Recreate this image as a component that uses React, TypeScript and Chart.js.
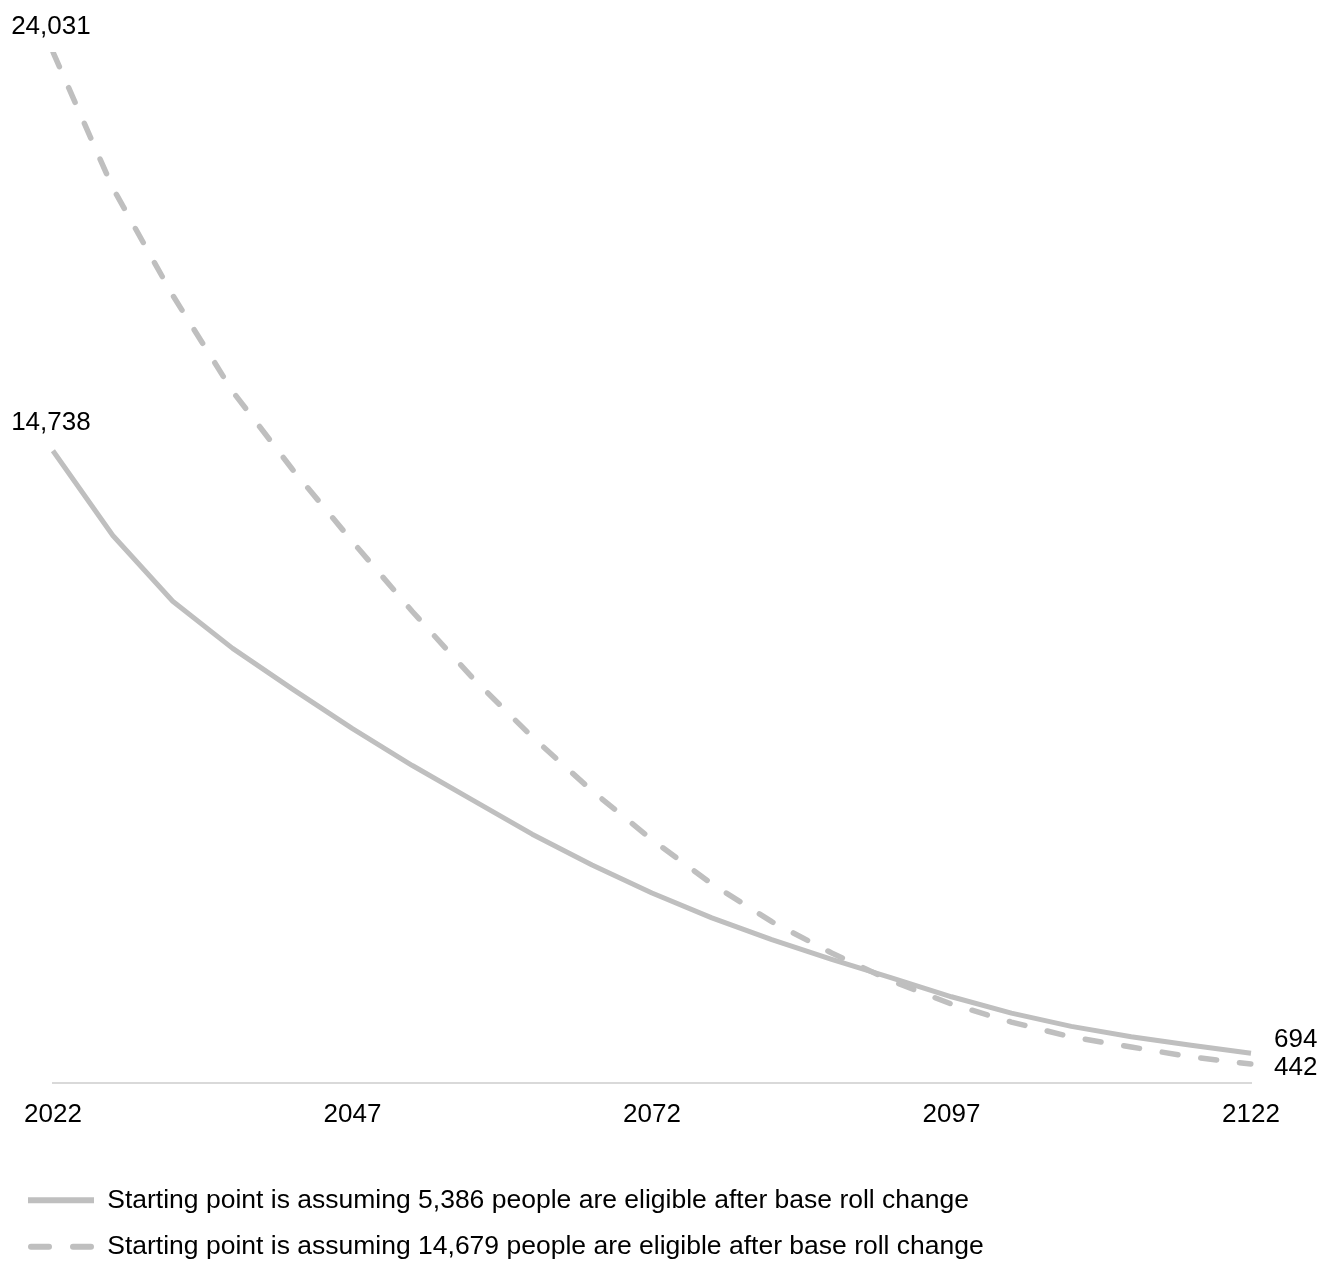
import React, { useEffect, useRef } from "react";
import { Chart, registerables } from "chart.js";

Chart.register(...registerables);

// ---- Data ----
const years = [
  2022, 2027, 2032, 2037, 2042, 2047, 2052, 2057, 2062, 2067, 2072,
  2077, 2082, 2087, 2092, 2097, 2102, 2107, 2112, 2117, 2122,
];
const tickYears = [2022, 2047, 2072, 2097, 2122];

const solidValues = [
  14738, 12760, 11230, 10130, 9180, 8260, 7400, 6600, 5800, 5080, 4430,
  3850, 3340, 2880, 2450, 2010, 1630, 1320, 1080, 880, 694,
];
const dashedValues = [
  24031, 20860, 18360, 16120, 14300, 12620, 10990, 9450, 8070, 6810, 5670,
  4640, 3760, 3030, 2380, 1840, 1420, 1073, 840, 607, 442,
];

const solidLabel =
  "Starting point is assuming 5,386 people are eligible after base roll change";
const dashedLabel =
  "Starting point is assuming 14,679 people are eligible after base roll change";

// ---- Styles ----
const FONT = "'Liberation Sans', Arial, Helvetica, sans-serif";
const GREY = "#bfbfbf";
const AXIS = "#d9d9d9";
const FONT_SIZE = 26;
const LEGEND_FONT_SIZE = 26.5;

const fmt = (v: number) => v.toLocaleString("en-US");

const endLabels = {
  id: "endLabels",
  afterDatasetsDraw(chart: any) {
    const ctx = chart.ctx;
    ctx.save();
    ctx.font = `${FONT_SIZE}px ${FONT}`;
    ctx.fillStyle = "#000";
    ctx.textBaseline = "middle";
    chart.data.datasets.forEach((ds: any, i: number) => {
      const meta = chart.getDatasetMeta(i);
      const first = meta.data[0];
      const last = meta.data[meta.data.length - 1];
      const v0 = ds.data[0];
      const vN = ds.data[ds.data.length - 1];
      ctx.textAlign = "center";
      ctx.fillText(fmt(v0), first.x - 2, first.y - (i === 0 ? 28 : 25));
      ctx.textAlign = "left";
      ctx.fillText(fmt(vN), last.x + 23, last.y + (i === 0 ? -13 : 4));
    });
    ctx.restore();
  },
};

export default function App() {
  const canvasRef = useRef<HTMLCanvasElement | null>(null);

  useEffect(() => {
    document.documentElement.style.overflow = "hidden";
    document.body.style.overflow = "hidden";
    if (!canvasRef.current) return;
    const chart = new Chart(canvasRef.current, {
      type: "line",
      data: {
        labels: years.map(String),
        datasets: [
          {
            label: solidLabel,
            data: solidValues,
            borderColor: GREY,
            backgroundColor: GREY,
            borderWidth: 5,
            borderCapStyle: "butt",
            borderJoinStyle: "round",
            pointRadius: 0,
            tension: 0,
          },
          {
            label: dashedLabel,
            data: dashedValues,
            borderColor: GREY,
            backgroundColor: GREY,
            borderWidth: 5.5,
            borderDash: [16, 23],
            borderCapStyle: "round",
            borderJoinStyle: "round",
            pointRadius: 0,
            tension: 0,
          },
        ],
      },
      options: {
        animation: false,
        responsive: true,
        maintainAspectRatio: false,
        layout: { padding: { left: 0, right: 76, top: 44, bottom: 0 } },
        scales: {
          x: {
            type: "category",
            offset: false,
            grid: { display: false, drawTicks: false },
            border: { display: true, color: AXIS, width: 2 },
            ticks: {
              autoSkip: false,
              maxRotation: 0,
              padding: 16,
              color: "#000",
              font: { family: FONT, size: FONT_SIZE },
              callback: (_v: any, idx: number) =>
                tickYears.includes(years[idx]) ? String(years[idx]) : null,
            },
            afterFit: (s: any) => {
              s.height = 84;
            },
          },
          y: {
            display: true,
            min: 0,
            max: 24031,
            grid: { display: false, drawTicks: false },
            border: { display: false },
            ticks: { display: false },
            afterFit: (s: any) => {
              s.width = 44;
            },
          },
        },
        plugins: {
          legend: {
            display: true,
            position: "bottom",
            align: "start",
            labels: {
              usePointStyle: true,
              pointStyle: "line",
              pointStyleWidth: 66,
              padding: 20,
              color: "#000",
              font: { family: FONT, size: LEGEND_FONT_SIZE },
              generateLabels: (c: any) =>
                c.data.datasets.map((ds: any, i: number) => ({
                  text: ds.label,
                  fillStyle: "transparent",
                  strokeStyle: GREY,
                  lineWidth: 6,
                  lineDash: ds.borderDash ? [18, 24] : [],
                  lineDashOffset: ds.borderDash ? -3 : 0,
                  lineCap: ds.borderDash ? "round" : "butt",
                  lineJoin: "miter",
                  pointStyle: "line",
                  hidden: false,
                  datasetIndex: i,
                  fontColor: "#000",
                })),
            },
          },
          tooltip: { enabled: false },
        },
      },
      plugins: [endLabels],
    } as any);
    return () => chart.destroy();
  }, []);

  return (
    <div style={{ position: "relative", width: 1319, height: 1262 }}>
      <canvas ref={canvasRef} style={{ display: "block" }} />
    </div>
  );
}
